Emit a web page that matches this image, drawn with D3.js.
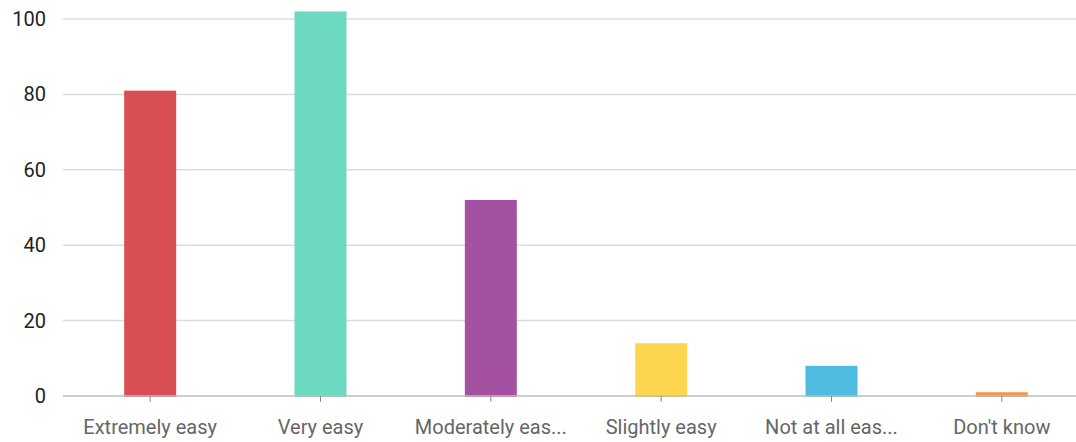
<!DOCTYPE html>
<html><head><meta charset="utf-8">
<script src="https://cdn.jsdelivr.net/npm/d3@7"></script>
<style>body{margin:0;background:#fff}svg{display:block;font-family:Roboto,sans-serif}</style>
</head><body><svg id="c" width="1076" height="442"></svg>
<script>
const categories = ["Extremely easy","Very easy","Moderately eas...","Slightly easy","Not at all eas...","Don't know"];
const values = [81,102,52,14,8,1];
const colors = ["#d64b50","#6ad8bf","#a34ea0","#fdd54b","#4dbae0","#f0944a"];
const yTicks = [0,20,40,60,80,100];

(function(){
const svg = d3.select("#c");
const pLeft = 63, pRight = 1076, pTop = 19, pBottom = 396;
const x = d3.scaleBand().domain(categories).range([65,1087]).paddingInner(0.694).paddingOuter(0.347);
const y = d3.scaleLinear().domain([0,100]).range([pBottom, pTop]);

svg.append("g").selectAll("line").data(yTicks.filter(d=>d>0)).join("line")
  .attr("x1",pLeft).attr("x2",pRight).attr("y1",d=>y(d)).attr("y2",d=>y(d))
  .attr("stroke","#dcdcdc").attr("stroke-width",1.5);

svg.append("g").selectAll("text").data(yTicks).join("text")
  .attr("x",46).attr("y",d=>y(d)).attr("dy","0.35em").attr("text-anchor","end")
  .attr("font-size",20).attr("fill","#222").text(d=>d);

const bw = 52;
svg.append("g").selectAll("rect").data(values).join("rect")
  .attr("x",(d,i)=>x(categories[i])+x.bandwidth()/2-bw/2)
  .attr("width",bw)
  .attr("y",d=>y(d))
  .attr("height",d=>y(0)-y(d)+1)
  .attr("fill",(d,i)=>colors[i]).attr("fill-opacity",0.98);

svg.append("line").attr("x1",pLeft).attr("x2",pRight).attr("y1",pBottom).attr("y2",pBottom)
  .attr("stroke","#bdbdbd").attr("stroke-width",1.5);

const xg = svg.append("g");
xg.selectAll("line").data(categories).join("line")
  .attr("x1",d=>x(d)+x.bandwidth()/2).attr("x2",d=>x(d)+x.bandwidth()/2)
  .attr("y1",pBottom).attr("y2",pBottom+6).attr("stroke","#888").attr("stroke-width",1);
xg.selectAll("text").data(categories).join("text")
  .attr("x",d=>x(d)+x.bandwidth()/2).attr("y",434).attr("text-anchor","middle")
  .attr("font-size",20).attr("fill","#666").text(d=>d);
})();
</script></body></html>
